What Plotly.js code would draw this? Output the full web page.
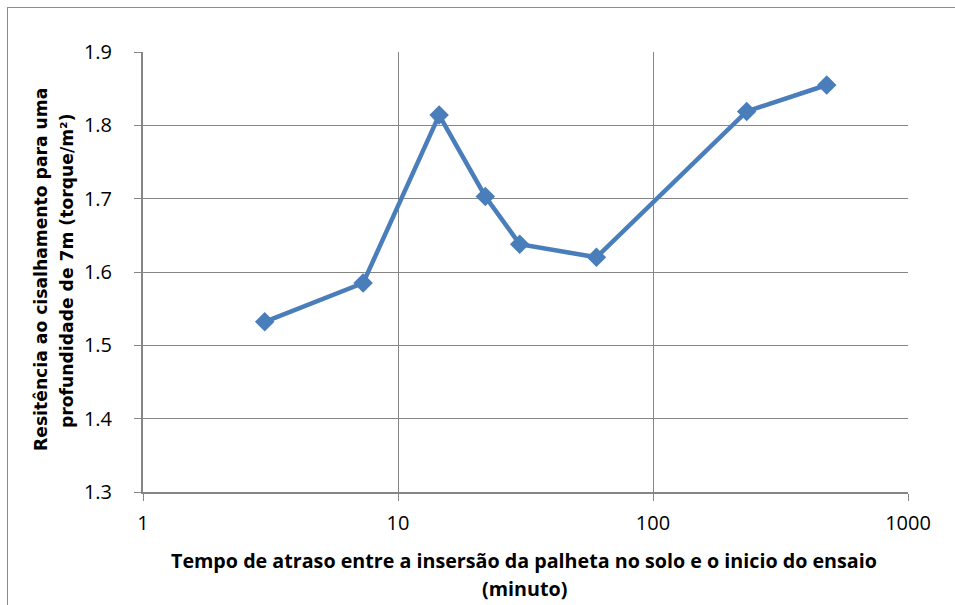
<!DOCTYPE html>
<html>
<head>
<meta charset="utf-8">
<script src="https://cdn.plot.ly/plotly-3.0.1.min.js"></script>
<style>
html,body{margin:0;padding:0;overflow:hidden;background:#fff;}
#wrap{position:relative;width:955px;height:605px;overflow:hidden;}
#chart{position:absolute;left:0;top:0;width:955px;height:605px;}
#frame{position:absolute;left:7px;top:7px;width:1000px;height:1000px;border:1px solid #8c8c8c;pointer-events:none;}
</style>
</head>
<body>
<div id="wrap"><div id="chart"></div><div id="frame"></div></div>
<script>
const delayMinutes = [3, 7.3, 14.5, 22, 30, 60, 233, 480];
const shearStrength = [1.532, 1.585, 1.814, 1.703, 1.638, 1.620, 1.819, 1.855];
const xTickVals = [1, 10, 100, 1000];
const xTickText = ['1', '10', '100', '1000'];
const yTickVals = [1.3, 1.4, 1.5, 1.6, 1.7, 1.8, 1.9];
const yTickText = ['1.3', '1.4', '1.5', '1.6', '1.7', '1.8', '1.9'];
const xTitleLines = ['Tempo de atraso entre a insersão da palheta no solo e o inicio do ensaio', '(minuto)'];
const yTitleLines = ['Resitência ao cisalhamento para uma', 'profundidade de 7m (torque/m²)'];

const W = 955, H = 605, ML = 143, MR = 47, MT = 52, MB = 113;
const pw = W - ML - MR, ph = H - MT - MB;
const px2x = p => (p - ML) / pw;
const py2y = p => 1 - (p - MT) / ph;

const tickFont = {family: 'Open Sans, Liberation Sans, sans-serif', size: 20, color: '#000'};
const xTitleFont = {family: 'Open Sans, sans-serif', size: 19.7, color: '#000'};
const yTitleFont = {family: 'DejaVu Sans, sans-serif', size: 17.2, color: '#000'};

const trace = {
  x: delayMinutes, y: shearStrength, type: 'scatter', mode: 'lines+markers',
  line: {color: '#4a7ebb', width: 4.5},
  marker: {symbol: 'diamond', size: 15, color: '#4a7ebb'},
  hoverinfo: 'x+y'
};

const annotations = [
  {text: '<b>' + xTitleLines[0] + '</b>', xref: 'paper', yref: 'paper', x: px2x(524), y: py2y(560), xanchor: 'center', yanchor: 'middle', showarrow: false, font: xTitleFont},
  {text: '<b>' + xTitleLines[1] + '</b>', xref: 'paper', yref: 'paper', x: px2x(524), y: py2y(588), xanchor: 'center', yanchor: 'middle', showarrow: false, font: xTitleFont},
  {text: '<b>' + yTitleLines[0] + '</b>', xref: 'paper', yref: 'paper', x: px2x(41), y: py2y(270), xanchor: 'center', yanchor: 'middle', textangle: -90, showarrow: false, font: yTitleFont},
  {text: '<b>' + yTitleLines[1] + '</b>', xref: 'paper', yref: 'paper', x: px2x(67), y: py2y(271), xanchor: 'center', yanchor: 'middle', textangle: -90, showarrow: false, font: yTitleFont}
];

const layout = {
  width: W, height: H,
  margin: {l: ML, r: MR, t: MT, b: MB},
  paper_bgcolor: '#fff', plot_bgcolor: '#fff',
  showlegend: false,
  annotations: annotations,
  xaxis: {
    type: 'log', range: [0, 3],
    tickvals: xTickVals, ticktext: xTickText,
    ticks: 'outside', ticklen: 7, tickcolor: '#868686', tickwidth: 1,
    ticklabelstandoff: 5,
    showgrid: true, gridcolor: '#868686', gridwidth: 1,
    showline: true, linecolor: '#868686', linewidth: 2,
    zeroline: false, tickfont: tickFont
  },
  yaxis: {
    range: [1.3, 1.9],
    tickvals: yTickVals, ticktext: yTickText,
    ticks: 'outside', ticklen: 7, tickcolor: '#868686', tickwidth: 1,
    ticklabelstandoff: 18,
    showgrid: true, gridcolor: '#868686', gridwidth: 1,
    showline: true, linecolor: '#868686', linewidth: 2,
    zeroline: false, tickfont: tickFont
  }
};
Plotly.newPlot('chart', [trace], layout, {displayModeBar: false, staticPlot: true});
</script>
</body>
</html>
